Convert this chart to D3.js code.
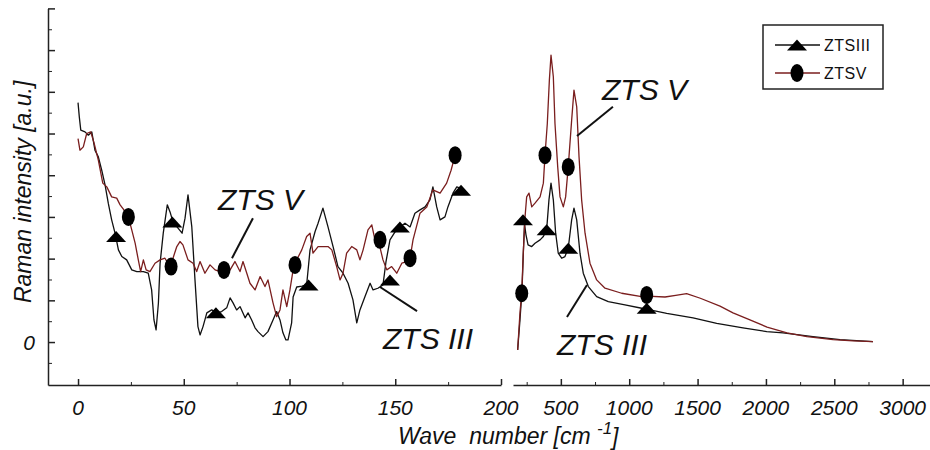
<!DOCTYPE html>
<html>
<head>
<meta charset="utf-8">
<script src="https://cdn.jsdelivr.net/npm/d3@7"></script>
<style>
  html, body { margin: 0; padding: 0; background: #fff; }
  svg { display: block; font-family: "Liberation Sans", Arial, sans-serif; }
  .it { font-style: italic; font-family: "Liberation Sans", Arial, sans-serif; }
</style>
</head>
<body>
<svg id="chart" width="930" height="450"></svg>
<script>
// ---- data (x: cm-1, y: arbitrary units) ----
var zts3Low = [[0,5.74],[0.6,5.40],[1.3,5.08],[3.3,5.04],[4.9,4.96],[6.5,5.04],[8.0,4.60],[9.6,4.44],[11.2,4.12],[12.8,3.76],
  [14.3,3.33],[15.9,2.93],[17.5,2.61],[19.1,2.21],[20.7,2.05],[23.0,1.97],[25.4,1.73],[27.8,1.69],[30.9,1.69],[33.2,1.65],
  [34.8,1.25],[35.9,0.53],[36.9,0.29],[38.0,0.93],[38.8,1.89],[40.3,2.61],[42.2,3.29],[43.5,3.12],[44.9,2.88],[46.8,2.76],
  [49.2,2.61],[50.6,2.97],[52.0,3.53],[53.8,2.76],[55.3,1.49],[56.7,0.37],[57.7,0.17],[59.1,0.37],[60.9,0.70],[63.2,0.77],
  [65.6,0.70],[67.9,0.73],[70.3,0.82],[71.9,1.06],[73.3,0.94],[75.0,0.77],[76.6,0.85],[79.0,0.58],[80.4,0.70],[82.1,0.53],
  [83.7,0.34],[85.1,0.25],[87.5,0.13],[89.8,0.25],[92.2,0.53],[93.9,0.73],[95.5,0.53],[96.9,0.22],[98.3,0.05],[99.3,0.05],
  [101.0,0.46],[101.7,1.08],[103.4,1.32],[105.9,1.34],[108.1,1.37],[109.7,2.21],[112.1,2.65],[113.5,2.85],[115.8,3.21],[118.2,2.76],
  [120.6,2.29],[122.9,1.81],[125.3,1.65],[127.7,1.41],[130.0,1.01],[131.8,0.46],[133.3,0.77],[135.7,1.09],[138.1,1.41],[139.5,1.25],
  [141.8,1.29],[144.2,1.37],[145.6,1.92],[147.5,2.45],[149.9,2.64],[152.2,2.76],[154.6,2.85],[157.0,2.76],[159.3,3.09],[161.7,3.17],
  [164.1,3.24],[166.4,3.41],[167.8,3.72],[169.6,3.24],[171.2,2.93],[173.5,3.00],[174.9,3.24],[177.3,3.57],[179.1,3.72],[180.6,3.69]];

var zts5Low = [[0,4.88],[0.9,4.60],[2.5,4.68],[4.1,5.00],[6.0,5.04],[7.6,4.77],[9.6,4.36],[11.7,3.81],[13.6,3.72],[15.9,3.48],
  [18.3,3.45],[19.9,3.29],[21.7,3.17],[23.8,3.00],[25.4,2.69],[27.0,2.37],[28.5,1.97],[29.6,1.69],[30.9,1.97],[32.2,1.73],
  [34.0,1.69],[36.4,1.89],[38.8,1.97],[41.1,2.01],[43.5,1.81],[44.9,2.01],[46.7,2.29],[48.2,2.41],[49.6,2.33],[52.0,1.97],
  [54.4,1.89],[56.1,1.69],[57.7,1.93],[60.0,1.65],[62.4,1.85],[64.8,1.73],[67.1,1.69],[68.6,1.73],[71.9,1.73],[74.2,1.93],
  [76.6,1.69],[78.0,1.93],[79.8,1.65],[81.3,1.41],[83.7,1.25],[86.1,1.57],[88.4,1.33],[89.8,1.49],[92.2,0.94],[93.9,0.61],
  [95.5,0.77],[96.9,1.25],[98.7,0.85],[100.2,1.25],[101.7,1.73],[102.6,1.89],[105.8,2.21],[108.1,2.53],[109.7,2.61],[111.1,2.13],
  [113.5,2.29],[115.8,2.29],[118.2,2.29],[120.0,2.21],[122.3,1.81],[123.9,1.49],[125.3,1.65],[127.0,2.13],[129.4,2.29],[131.8,2.21],
  [133.3,1.97],[134.8,2.21],[137.1,2.69],[138.9,2.81],[140.4,2.45],[142.3,2.37],[144.2,1.97],[146.0,1.73],[148.3,1.81],[150.7,1.65],
  [153.1,1.89],[155.1,1.92],[157.0,2.01],[158.4,2.45],[161.7,3.09],[164.9,3.24],[167.8,3.65],[171.2,3.57],[174.3,3.81],[176.4,4.12],
  [178.3,4.48]];

var zts3High = [[184,-0.19],[201,0.53],[216,1.25],[225,2.09],[234,2.83],[245,2.57],[260,2.33],[287,2.29],[311,2.37],[348,2.45],
  [372,2.53],[396,2.69],[413,3.41],[428,3.81],[445,3.41],[462,2.61],[481,2.13],[506,2.01],[530,2.05],[554,2.25],
  [579,2.93],[596,3.21],[616,2.93],[640,2.13],[664,1.65],[701,1.33],[762,1.09],[847,0.97],[969,0.89],[1091,0.81],
  [1152,0.77],[1274,0.69],[1467,0.58],[1640,0.45],[1832,0.34],[2006,0.25],[2125,0.22],[2344,0.13],[2542,0.06],[2783,0.01]];

var zts5High = [[184,-0.19],[201,0.70],[214,1.18],[225,2.13],[238,3.00],[250,3.48],[267,3.57],[287,3.24],[311,3.33],[348,3.48],
  [372,3.81],[384,4.48],[401,5.24],[416,6.28],[428,6.88],[445,6.36],[457,5.24],[477,4.20],[494,3.48],[518,3.24],
  [535,3.48],[554,4.20],[579,5.32],[596,6.04],[616,5.64],[633,4.44],[652,3.41],[677,2.61],[713,1.89],[762,1.49],
  [823,1.29],[945,1.17],[1091,1.09],[1130,1.10],[1262,1.08],[1340,1.12],[1420,1.16],[1520,1.05],[1664,0.86],[1759,0.70],
  [1883,0.53],[2008,0.36],[2154,0.22],[2300,0.13],[2491,0.06],[2637,0.03],[2783,0.01]];

// marker positions (the symbols sit on every n-th recorded point)
var zts3LowMarks = [[18.0,2.53],[44.6,2.88],[65.2,0.70],[109.0,1.37],[147.5,1.49],[152.2,2.76],[181.1,3.64]];
var zts5LowMarks = [[23.8,3.00],[44.0,1.81],[69.0,1.73],[102.6,1.85],[142.8,2.45],[157.0,2.01],[178.3,4.48]];
var zts3HighMarks = [[223,2.93],[396,2.69],[554,2.25],[1128,0.81]];
var zts5HighMarks = [[214,1.17],[384,4.48],[554,4.20],[1128,1.13]];

var leftTicks = [0, 50, 100, 150, 200];
var leftMinor = [25, 75, 125, 175];
var rightTicks = [500, 1000, 1500, 2000, 2500, 3000];
var rightMinor = [250, 750, 1250, 1750, 2250, 2750];
var yTicks = [0, 1, 2, 3, 4, 5, 6, 7, 8];
var yMinor = [-0.5, 0.5, 1.5, 2.5, 3.5, 4.5, 5.5, 6.5, 7.5];
var yLabels = [0];

var seriesNames = ["ZTSIII", "ZTSV"];
var seriesColors = ["#111111", "#7a1e1e"];
var seriesShapes = ["triangle", "ellipse"];

// ---- layout ----
var svg = d3.select("#chart");
var y = d3.scaleLinear().domain([-1.03, 8]).range([385, 8.4]);
var xL = d3.scaleLinear().domain([-14.2, 200]).range([48, 501]);
var xR = d3.scaleLinear().domain([150, 3200]).range([513, 930]);
var axisColor = "#222";

function styleAxis(g) {
  g.selectAll("path, line").attr("stroke", axisColor).attr("stroke-width", 1.5);
}

// x axes (ticks point inward); labels drawn as plain italic text
function xAxis(scale, major, minor) {
  var g = svg.append("g").attr("transform", "translate(0,385)")
    .call(d3.axisBottom(scale).tickValues(major).tickSizeInner(-6).tickSizeOuter(0).tickFormat(""));
  styleAxis(g);
  var m = svg.append("g").attr("transform", "translate(0,385)")
    .call(d3.axisBottom(scale).tickValues(minor).tickSize(-3).tickFormat(""));
  m.select(".domain").remove();
  styleAxis(m);
  m.selectAll("line").attr("stroke-width", 1);
  svg.append("g").selectAll("text").data(major).join("text")
    .attr("class", "it")
    .attr("x", function(d) { return scale(d); })
    .attr("y", 415)
    .attr("text-anchor", "middle")
    .attr("font-size", 21)
    .attr("fill", "#111")
    .text(function(d) { return d; });
}
xAxis(xL, leftTicks, leftMinor);
xAxis(xR, rightTicks, rightMinor);

// y axis
var ya = svg.append("g").attr("transform", "translate(48,0)")
  .call(d3.axisLeft(y).tickValues(yTicks).tickSizeInner(-7).tickSizeOuter(0).tickFormat(""));
styleAxis(ya);
var ym = svg.append("g").attr("transform", "translate(48,0)")
  .call(d3.axisLeft(y).tickValues(yMinor).tickSize(-4).tickFormat(""));
ym.select(".domain").remove();
styleAxis(ym);
ym.selectAll("line").attr("stroke-width", 1);
svg.append("g").selectAll("text").data(yLabels).join("text")
  .attr("class", "it")
  .attr("x", 35)
  .attr("y", function(d) { return y(d) + 8; })
  .attr("text-anchor", "end")
  .attr("font-size", 21)
  .attr("fill", "#111")
  .text(function(d) { return d; });

// axis titles
svg.append("text")
  .attr("class", "it")
  .attr("transform", "translate(31," + y(3.6) + ") rotate(-90)")
  .attr("text-anchor", "middle")
  .attr("font-size", 23)
  .attr("fill", "#111")
  .text("Raman intensity [a.u.]");

var xt = svg.append("text")
  .attr("class", "it")
  .attr("x", 398).attr("y", 444)
  .attr("font-size", 23)
  .style("white-space", "pre")
  .attr("fill", "#111");
xt.append("tspan").text("Wave  number [cm ");
xt.append("tspan").attr("dy", -10).attr("font-size", 17).text("-1");
xt.append("tspan").attr("dy", 11).text("]");

// ---- lines ----
function lineGen(xs) {
  return d3.line().x(function(d) { return xs(d[0]); }).y(function(d) { return y(d[1]); });
}
var panels = [
  { x: xL, data: [zts3Low, zts5Low], marks: [zts3LowMarks, zts5LowMarks] },
  { x: xR, data: [zts3High, zts5High], marks: [zts3HighMarks, zts5HighMarks] }
];

function drawMarker(g, shape, color, px, py) {
  if (shape === "triangle") {
    g.append("path")
      .attr("d", "M-10,5.5L10,5.5L0,-5.5Z")
      .attr("transform", "translate(" + px + "," + py + ")")
      .attr("fill", color);
  } else {
    g.append("ellipse").attr("cx", px).attr("cy", py).attr("rx", 6.5).attr("ry", 9).attr("fill", color);
  }
}

panels.forEach(function(p) {
  p.data.forEach(function(s, i) {
    svg.append("path").datum(s)
      .attr("d", lineGen(p.x))
      .attr("fill", "none")
      .attr("stroke", seriesColors[i])
      .attr("stroke-width", 1.3)
      .attr("stroke-linejoin", "round");
  });
  p.marks.forEach(function(s, i) {
    var g = svg.append("g");
    s.forEach(function(d) {
      drawMarker(g, seriesShapes[i], "#000", p.x(d[0]), y(d[1]));
    });
  });
});

// ---- annotations ----
var annotations = [
  { text: "ZTS V",   x: xL, tx: 66.2,  ty: 3.17,  from: [82.7, 2.97],  to: [72.8, 2.01] },
  { text: "ZTS III", x: xL, tx: 144.2, ty: -0.17, from: [160.3, 0.74], to: [142.8, 1.32] },
  { text: "ZTS V",   x: xR, tx: 801,   ty: 5.80,  from: [881, 5.64],   to: [618, 4.94] },
  { text: "ZTS III", x: xR, tx: 472,   ty: -0.31, from: [545, 0.60],   to: [691, 1.37] }
];
annotations.forEach(function(a) {
  svg.append("text").attr("class", "it").attr("x", a.x(a.tx)).attr("y", y(a.ty))
    .attr("font-size", 30).attr("fill", "#111").text(a.text);
  svg.append("line")
    .attr("x1", a.x(a.from[0])).attr("y1", y(a.from[1]))
    .attr("x2", a.x(a.to[0])).attr("y2", y(a.to[1]))
    .attr("stroke", "#111").attr("stroke-width", 2);
});

// ---- legend ----
var lg = svg.append("g").attr("transform", "translate(763,25)");
lg.append("rect").attr("width", 120).attr("height", 64)
  .attr("fill", "#fff").attr("stroke", "#222").attr("stroke-width", 1.5);
seriesNames.forEach(function(name, i) {
  var ry = 20 + i * 28;
  lg.append("line").attr("x1", 12).attr("x2", 57).attr("y1", ry).attr("y2", ry)
    .attr("stroke", seriesColors[i]).attr("stroke-width", 1.3);
  drawMarker(lg, seriesShapes[i], "#000", 34, ry);
  lg.append("text").attr("x", 61).attr("y", ry + 6)
    .attr("font-size", 16)
    .style("letter-spacing", "0.5px")
    .attr("fill", "#111").text(name);
});
</script>
</body>
</html>
